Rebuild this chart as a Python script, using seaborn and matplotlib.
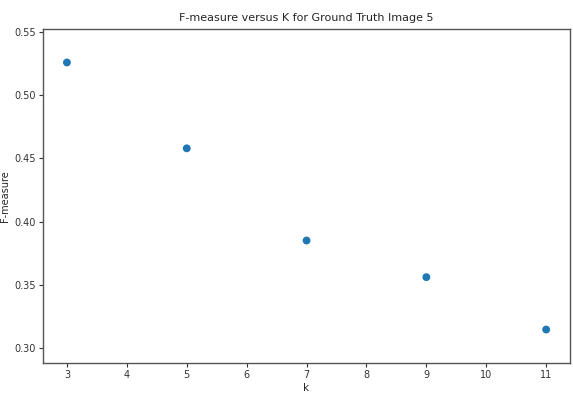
import matplotlib
matplotlib.use("Agg")
import matplotlib.pyplot as plt
import seaborn as sns
import pandas as pd

# Number of clusters and the corresponding F-measure
k_values = [3, 5, 7, 9, 11]
f_measure = [0.526, 0.458, 0.385, 0.356, 0.3145]

df = pd.DataFrame({"k": k_values, "F-measure": f_measure})

sns.set_style("ticks")
plt.rcParams["font.family"] = ["DejaVu Sans"]

fig = plt.figure(figsize=(5.73, 4.0), dpi=100)
ax = fig.add_axes([0.075, 0.0925, 0.92, 0.835])

sns.scatterplot(data=df, x="k", y="F-measure", ax=ax, color="#1f77b4",
                s=32, edgecolor="none")

ax.set_xlim(2.6, 11.4)
ax.set_ylim(0.288, 0.5525)
ax.set_xticks(range(3, 12))
yt = [0.30, 0.35, 0.40, 0.45, 0.50, 0.55]
ax.set_yticks(yt)
ax.set_yticklabels([f"{v:.2f}" for v in yt])

for s in ax.spines.values():
    s.set_color("#555555")
    s.set_linewidth(1.0)
ax.tick_params(labelsize=7, colors="#333333", length=3, width=0.8, pad=2)

ax.set_title("F-measure versus K for Ground Truth Image 5", fontsize=8, pad=6)
ax.set_xlabel("k", fontsize=7.5, labelpad=2)
ax.set_ylabel("F-measure", fontsize=7)
ax.yaxis.set_label_coords(-0.062, 0.5)

fig.savefig("out.png", dpi=100)
